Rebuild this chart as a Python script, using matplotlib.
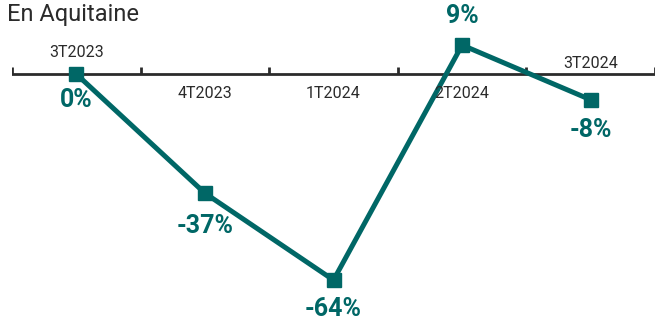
import matplotlib
matplotlib.use('Agg')
import matplotlib.pyplot as plt

# Quarterly variation, Aquitaine
quarters = ['3T2023', '4T2023', '1T2024', '2T2024', '3T2024']
values = [0, -37, -64, 9, -8]
labels = ['0%', '-37%', '-64%', '9%', '-8%']

teal = '#006766'
dark = '#2b2b2b'

plt.rcParams['font.family'] = ['Roboto', 'DejaVu Sans']

fig = plt.figure(figsize=(6.57, 3.2), dpi=100)
ax = fig.add_axes([12 / 657, 0, 643 / 657, 1])

x = [i + 0.5 for i in range(len(values))]

# Axis at zero with upward ticks at category boundaries
ax.axhline(0, color=dark, lw=2.0, zorder=1)
for b in range(len(values) + 1):
    ax.plot([b, b], [0, 2.1], color=dark, lw=2.0, solid_capstyle='butt', zorder=1)

ax.plot(x, values, color=teal, lw=3.6, marker='s', markersize=9.5, zorder=3)

# vertical position of the category names (data units), tuned by eye
name_y = [6.8, -5.9, -5.9, -5.9, 3.4]
for xi, q, ny in zip(x, quarters, name_y):
    ax.text(xi, ny, q, ha='center', va='center', fontsize=11.5, color=dark)

# value label offsets in points (negative = below the marker)
offs = [-19, -24, -21, 21, -22]
for xi, v, lab, off in zip(x, values, labels, offs):
    ax.annotate(lab, (xi, v), xytext=(0, off), textcoords='offset points',
                ha='center', va='center', fontsize=18, fontweight='bold', color=teal)

ax.set_xlim(0, len(values))
ax.set_ylim(-76.4, 23.0)
ax.axis('off')

fig.text(7 / 657, 1 - 14 / 320, 'En Aquitaine', ha='left', va='center',
         fontsize=17, color=dark)

fig.savefig('out.png', dpi=100)
